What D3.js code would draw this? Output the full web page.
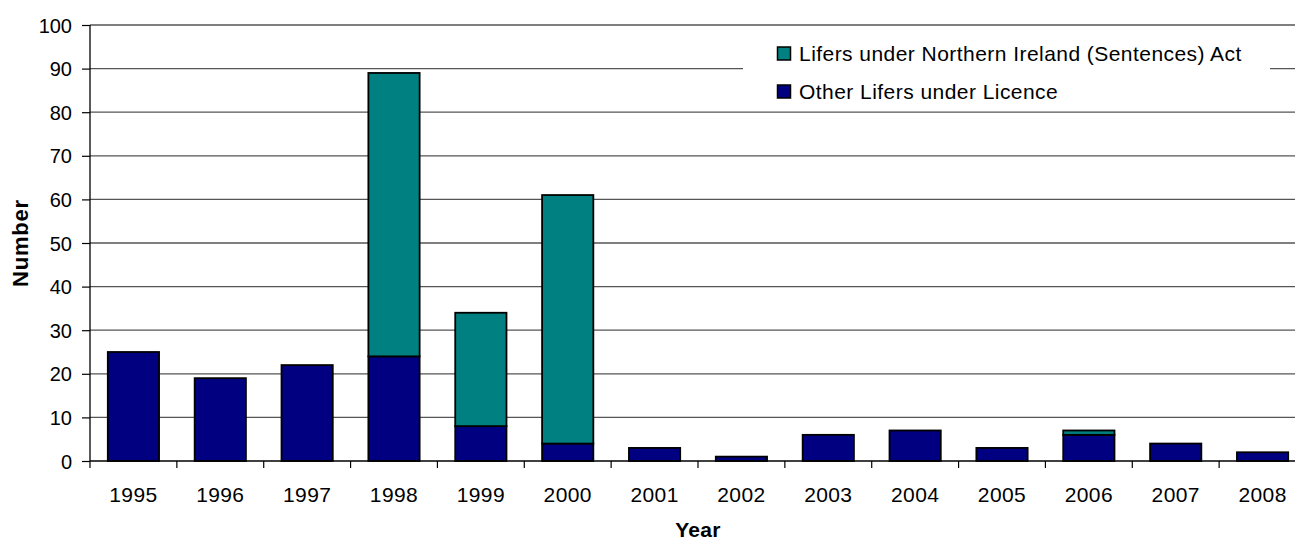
<!DOCTYPE html>
<html>
<head>
<meta charset="utf-8">
<script src="https://cdn.jsdelivr.net/npm/d3@7"></script>
<style>
  body { margin: 0; background: #fff; overflow: hidden; }
  svg text { font-family: "Liberation Sans", Arial, sans-serif; }
</style>
</head>
<body>
<div id="chart"></div>
<script>
const years = ["1995", "1996", "1997", "1998", "1999", "2000", "2001", "2002", "2003", "2004", "2005", "2006", "2007", "2008"];
const otherLifers = [25, 19, 22, 24, 8, 4, 3, 1, 6, 7, 3, 6, 4, 2];
const niLifers = [0, 0, 0, 65, 26, 57, 0, 0, 0, 0, 0, 1, 0, 0];
const yTicks = [0, 10, 20, 30, 40, 50, 60, 70, 80, 90, 100];
const seriesNames = ["Other Lifers under Licence", "Lifers under Northern Ireland (Sentences) Act"];
const seriesColors = ["#000080", "#008080"];

const wSvg = 1295;
const hSvg = 540;
// the plot runs a little past the right edge of the picture
const xLeft = 90, xRight = 1306, yTop = 25, yBottom = 461;

const svg = d3.select("#chart")
    .append("svg")
    .attr("width", wSvg)
    .attr("height", hSvg);

// Scales
const xScale = d3.scaleBand(years, [xLeft, xRight])
    .paddingInner(0.41)
    .paddingOuter(0.205);
const yScale = d3.scaleLinear([0, 100], [yBottom, yTop]);

// Gridlines
svg.append("g")
    .selectAll("line")
    .data(yTicks.filter(t => t > 0))
    .enter()
    .append("line")
    .attr("x1", xLeft)
    .attr("x2", xRight)
    .attr("y1", d => yScale(d))
    .attr("y2", d => yScale(d))
    .attr("stroke", "#555")
    .attr("stroke-width", 1.3);

// Stacked data
const table = years.map((y, i) => ({ year: y, other: otherLifers[i], ni: niLifers[i] }));
const stack = d3.stack().keys(["other", "ni"])(table);

// Bars
svg.append("g")
    .selectAll("g")
    .data(stack)
    .enter()
    .append("g")
    .attr("fill", (d, i) => seriesColors[i])
    .selectAll("rect")
    .data(d => d.filter(p => p[1] - p[0] > 0))
    .enter()
    .append("rect")
    .attr("x", d => xScale(d.data.year))
    .attr("y", d => yScale(d[1]))
    .attr("width", xScale.bandwidth())
    .attr("height", d => yScale(d[0]) - yScale(d[1]))
    .attr("stroke", "#000")
    .attr("stroke-width", 1.8);

// Axes
const yAxis = svg.append("g")
    .attr("transform", `translate(${xLeft}, 0)`)
    .call(d3.axisLeft(yScale).tickValues(yTicks).tickSize(8).tickPadding(10));

const xAxis = svg.append("g")
    .attr("transform", `translate(0, ${yBottom})`)
    .call(d3.axisBottom(xScale).tickSize(0));

// category boundary ticks
const step = xScale.step();
svg.append("g")
    .selectAll("line")
    .data(d3.range(years.length + 1))
    .enter()
    .append("line")
    .attr("x1", i => xLeft + i * step)
    .attr("x2", i => xLeft + i * step)
    .attr("y1", yBottom)
    .attr("y2", yBottom + 7)
    .attr("stroke", "#000")
    .attr("stroke-width", 1.2);

[yAxis, xAxis].forEach(a => {
    a.attr("font-family", null).attr("font-size", null);
    a.selectAll("text").attr("fill", "#000");
    a.select(".domain").attr("stroke", "#000").attr("stroke-width", 1.3);
    a.selectAll(".tick line").attr("stroke", "#000").attr("stroke-width", 1.2);
});
yAxis.selectAll("text").attr("font-size", 20).attr("dy", "0.35em");
xAxis.selectAll("text")
    .attr("font-size", 21)
    .attr("letter-spacing", 0.4)
    .attr("dy", null)
    .attr("y", 41);
xAxis.select(".domain").attr("d", `M${xLeft},0H${xRight}`);
yAxis.select(".domain").attr("d", `M0,${yTop}V${yBottom}`);

// Axis titles
svg.append("text")
    .attr("x", 698)
    .attr("y", 537)
    .attr("text-anchor", "middle")
    .attr("font-size", 21)
    .attr("font-weight", "bold")
    .attr("letter-spacing", 0.3)
    .text("Year");

svg.append("text")
    .attr("transform", `translate(28, ${(yTop + yBottom) / 2}) rotate(-90)`)
    .attr("text-anchor", "middle")
    .attr("font-size", 22)
    .attr("font-weight", "bold")
    .attr("letter-spacing", 0.8)
    .text("Number");

// Legend
const legend = svg.append("g");
legend.append("rect")
    .attr("x", 743)
    .attr("y", 30)
    .attr("width", 527)
    .attr("height", 78)
    .attr("fill", "#fff");

const legendItems = [1, 0];
legendItems.forEach((s, i) => {
    const yy = 47 + i * 38;
    legend.append("rect")
        .attr("x", 777.5)
        .attr("y", yy)
        .attr("width", 13)
        .attr("height", 13)
        .attr("fill", seriesColors[s])
        .attr("stroke", "#000")
        .attr("stroke-width", 1.5);
    legend.append("text")
        .attr("x", 799)
        .attr("y", yy + 14)
        .attr("font-size", 21)
        .attr("letter-spacing", 0.45)
        .text(seriesNames[s]);
});
</script>
</body>
</html>
